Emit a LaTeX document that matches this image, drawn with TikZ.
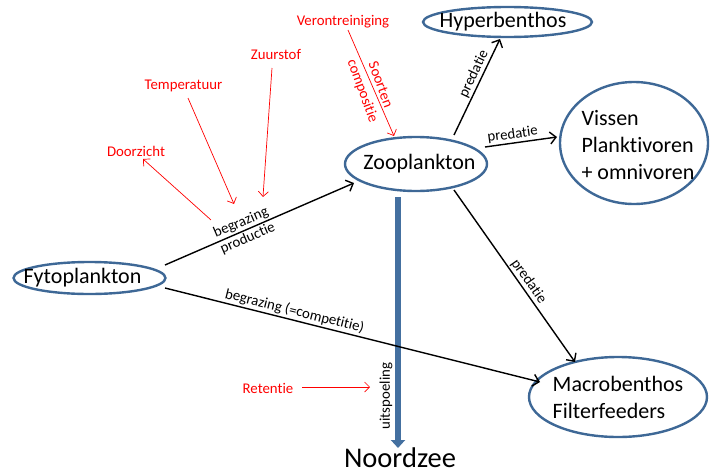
\documentclass[tikz,border=0pt]{standalone}
\usepackage{fontspec}
\setmainfont{Carlito}[Ligatures=NoCommon]
\usetikzlibrary{arrows.meta,shapes.geometric}
\definecolor{ellblue}{RGB}{62,104,150}
\definecolor{flowblue}{RGB}{68,112,160}
\begin{document}
\begin{tikzpicture}[x=1pt,y=-1pt,
  organism/.style={ellipse, draw=ellblue, line width=2.4pt, inner sep=0pt},
  big/.style={font=\fontsize{22}{27}\selectfont},
  small/.style={font=\fontsize{14.8}{17}\selectfont},
  factor/.style={small, text=red},
  link/.style={draw=black, line width=1.4pt, -{Straight Barb[length=6pt,width=12pt]}},
  cue/.style={draw=red, line width=0.7pt, -{Straight Barb[length=5pt,width=10pt]}},
  elabel/.style={small, inner sep=1.5pt},
]
\useasboundingbox (0,0) rectangle (712,474);

% organisms
\node[organism, minimum width=152pt, minimum height=32pt,
      label={[big, xshift=-7pt]center:Fytoplankton}] (fyto) at (89.5,278) {};
\node[organism, minimum width=142pt, minimum height=54pt,
      label={[big, xshift=3.5pt]center:Zooplankton}] (zoo) at (416,164) {};
\node[organism, minimum width=169pt, minimum height=30pt,
      label={[big, xshift=-4.5pt]center:Hyperbenthos}] (hyper) at (507.5,22) {};
\node[organism, minimum width=148pt, minimum height=122pt,
      label={[big, align=left, xshift=4pt, yshift=-2pt]center:{Vissen\\Planktivoren\\+ omnivoren}}] (fish) at (634,143) {};
\node[organism, minimum width=178pt, minimum height=80pt,
      label={[big, align=left]center:{Macrobenthos\\Filterfeeders}}] (macro) at (618,397) {};
\node[font=\fontsize{28.5}{32}\selectfont, anchor=base] (sea) at (400,467) {Noordzee};

% environmental factors
\node[factor] (verontr) at (343,22) {Verontreiniging};
\node[factor] (o2) at (276,54) {Zuurstof};
\node[factor] (temp) at (183.5,86) {Temperatuur};
\node[factor] (zicht) at (136,151) {Doorzicht};
\node[factor, rotate=-70, align=center, font=\fontsize{14.8}{19}\selectfont] (soort) at (371,88) {Soorten\\compositie};
\node[factor] (ret) at (268,388) {Retentie};
\node[small, rotate=90] (uit) at (386,396) {uitspoeling};

% export to the North Sea
\draw[flowblue, line width=6pt, -{Triangle[length=8pt,width=14pt]}]
  ([shift={(-18,33)}]zoo.center) -- ([shift={(-2,-19)}]sea.base);

% trophic links
\draw[link] ([shift={(75.5,-13)}]fyto.center) --
  node[elabel, pos=0.42, sloped, align=center] (bgp) {begrazing\\productie}
  ([shift={(-62,19)}]zoo.center);
\draw[link] ([shift={(75.5,10)}]fyto.center) --
  node[elabel, pos=0.34, sloped, above] (bgc) {begrazing (=competitie)}
  ([shift={(-78,-15)}]macro.center);
\draw[link] ([shift={(38,-29)}]zoo.center) --
  node[elabel, pos=0.6, sloped, above] (p1) {predatie}
  ([shift={(-7.5,17)}]hyper.center);
\draw[link] ([shift={(69,-17)}]zoo.center) --
  node[elabel, pos=0.4, sloped, above] (p2) {predatie}
  ([shift={(-77,-6)}]fish.center);
\draw[link] ([shift={(38,26)}]zoo.center) --
  node[elabel, pos=0.56, sloped, above] (p3) {predatie}
  ([shift={(-43,-35)}]macro.center);

% influences
\draw[cue] ([shift={(5,8)}]verontr.center) -- ([shift={(-22,-28)}]zoo.center);
\draw[cue] ([shift={(-4,14)}]o2.center) -- ([shift={(18.6,-33.6)}]bgp.center);
\draw[cue] ([shift={(4.5,12)}]temp.center) -- ([shift={(-10.4,-26.6)}]bgp.center);
\draw[cue] ([shift={(-33.4,-10.6)}]bgp.center) -- ([shift={(7,8)}]zicht.center);
\draw[cue] ([shift={(34,-1)}]ret.center) -- ([shift={(-16,-9)}]uit.center);
\end{tikzpicture}
\end{document}
